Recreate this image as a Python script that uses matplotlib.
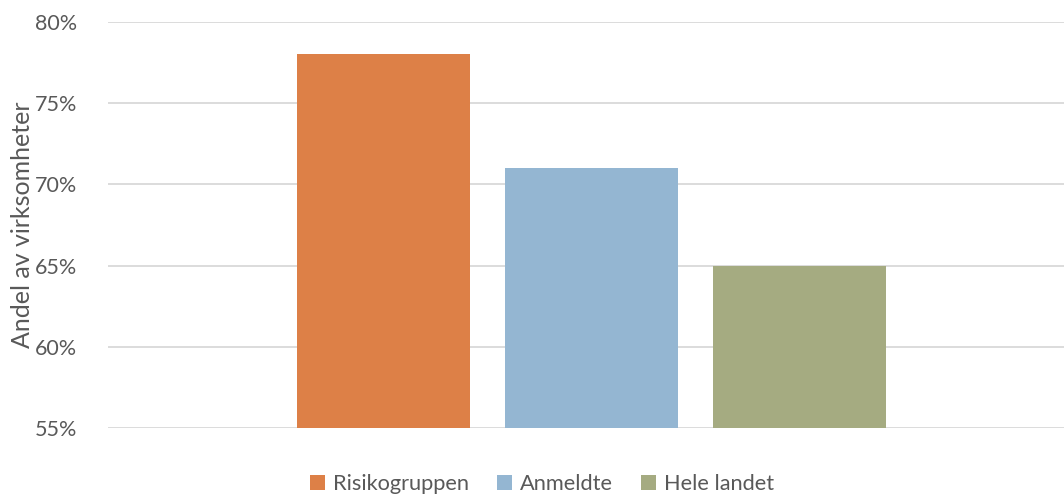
import matplotlib
matplotlib.use("Agg")
import matplotlib.pyplot as plt
from matplotlib.ticker import FuncFormatter

series = ["Risikogruppen", "Anmeldte", "Hele landet"]
values = [78, 71, 65]
colors = ["#DD8047", "#94B6D2", "#A5AB81"]
yticks = [55, 60, 65, 70, 75, 80]
ylabel = "Andel av virksomheter"

plt.rcParams['font.family'] = ['Lato', 'DejaVu Sans']
txt = "#595959"

fig = plt.figure(figsize=(10.64, 4.94), dpi=100)
ax = fig.add_axes([108/1064, 1-428/494, 1-108/1064, (428-22)/494])

x = list(range(len(series)))
for i, (s, v, c) in enumerate(zip(series, values, colors)):
    ax.bar(x[i], v - 55, bottom=55, width=0.832, color=c, label=s, zorder=3)

ax.set_ylim(55, 80)
ax.set_xlim(-1.3245, 3.2716)
ax.set_yticks(yticks)
ax.yaxis.set_major_formatter(FuncFormatter(lambda v, p: f"{int(v)}%"))
ax.grid(axis='y', color="#D9D9D9", linewidth=1.3, zorder=0)
ax.set_xticks([])
for sp in ax.spines.values():
    sp.set_visible(False)
ax.tick_params(axis='y', length=0, labelsize=15.5, labelcolor=txt, pad=22)
ax.set_ylabel(ylabel, fontsize=18, color=txt, labelpad=1)

leg = fig.legend(loc='center', bbox_to_anchor=(542/1064, 1-484/494), ncol=3, frameon=False,
                 fontsize=15.7, handlelength=0.7, handleheight=0.7, handletextpad=0.35,
                 columnspacing=1.3, labelcolor=txt)

fig.savefig("out.png", dpi=100)
